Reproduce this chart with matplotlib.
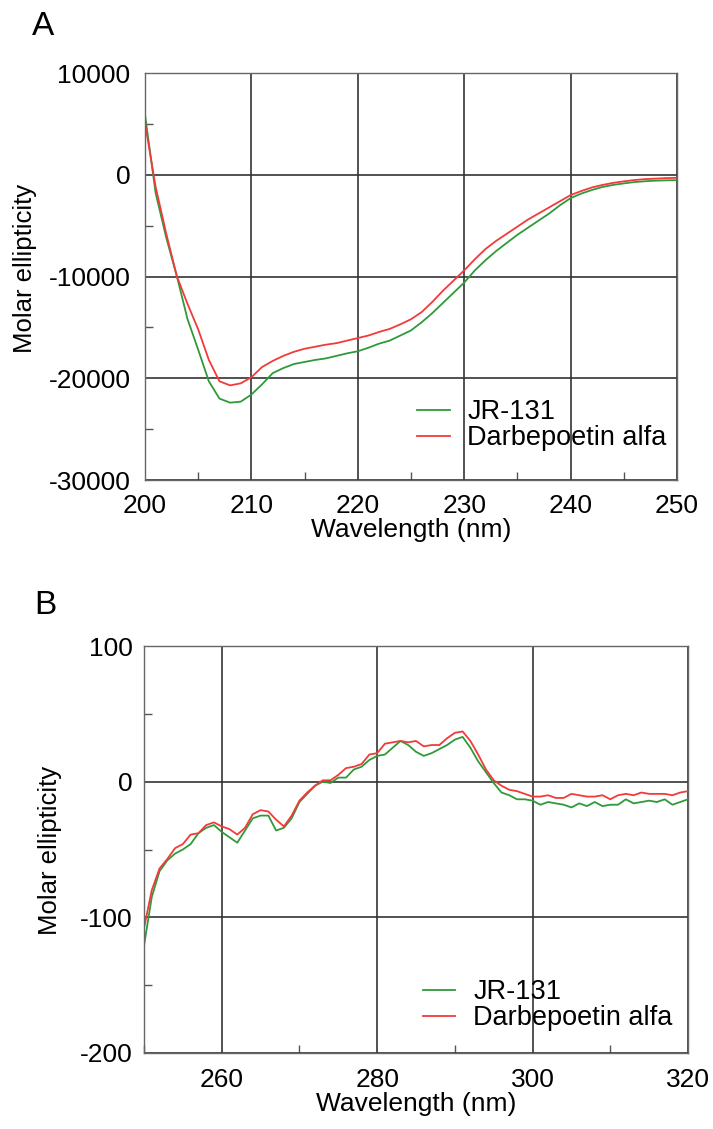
import numpy as np
import matplotlib
matplotlib.use("Agg")
import matplotlib.pyplot as plt
from matplotlib.ticker import MultipleLocator

plt.rcParams['font.family'] = ['Liberation Sans', 'DejaVu Sans']
plt.rcParams['axes.unicode_minus'] = False

# --- Panel A: far-UV CD, 200-250 nm ---
wl_a = np.arange(200, 251)
jr131_a = [5900, -1800, -6200, -10000, -14200, -17200, -20300, -22000, -22400, -22300,
           -21600, -20600, -19500, -19000, -18600, -18400, -18200, -18050, -17800, -17550,
           -17350, -17000, -16600, -16300, -15800, -15300, -14500, -13600, -12600, -11600,
           -10600, -9400, -8400, -7500, -6700, -5900, -5200, -4500, -3800, -3000,
           -2300, -1850, -1500, -1200, -1000, -850, -720, -640, -580, -550, -530]
darb_a = [5100, -1200, -5800, -10000, -12700, -15200, -18200, -20300, -20700, -20500,
          -19900, -18900, -18300, -17800, -17400, -17100, -16900, -16700, -16550, -16300,
          -16050, -15800, -15450, -15150, -14700, -14200, -13500, -12500, -11400, -10400,
          -9400, -8300, -7300, -6500, -5800, -5100, -4400, -3800, -3200, -2600,
          -2000, -1600, -1250, -1000, -800, -650, -520, -430, -380, -330, -300]

# --- Panel B: near-UV CD, 250-320 nm ---
wl_b = np.arange(250, 321)
jr131_b = [-121, -85, -66, -58, -53, -50, -46, -38, -34, -32,
           -37, -41, -45, -36, -27, -25, -25, -36, -34, -27,
           -15, -9, -3, 0, -1, 3, 3, 9, 11, 16,
           19, 20, 25, 30, 27, 22, 19, 21, 24, 27,
           31, 33, 25, 15, 7, -1, -8, -10, -13, -13,
           -14, -17, -15, -16, -17, -19, -16, -18, -15, -18,
           -17, -17, -13, -16, -15, -14, -15, -13, -17, -15, -13]
darb_b = [-108, -80, -64, -57, -49, -46, -39, -38, -32, -30,
          -33, -35, -39, -34, -24, -21, -22, -28, -33, -25,
          -14, -8, -3, 1, 1, 5, 10, 11, 13, 20,
          21, 28, 29, 30, 29, 30, 26, 27, 27, 32,
          36, 37, 30, 20, 9, 1, -3, -6, -7, -9,
          -11, -11, -10, -12, -12, -9, -10, -11, -11, -10,
          -13, -10, -9, -10, -8, -9, -9, -9, -10, -8, -7]

green = '#2f9a3a'
red = '#f23a3a'
fs = 19

fig = plt.figure(figsize=(7.13, 11.29), dpi=100)
ax1 = fig.add_axes([145/713, 1 - 480/1129, 532/713, 407/1129])
ax2 = fig.add_axes([144/713, 1 - 1053/1129, 544/713, 407/1129])


def style(ax, xlim, ylim, xmaj, xmin, ymaj, ymin, xpad, ypad):
    ax.set_xlim(*xlim)
    ax.set_ylim(*ylim)
    ax.xaxis.set_major_locator(MultipleLocator(xmaj))
    ax.xaxis.set_minor_locator(MultipleLocator(xmin))
    ax.yaxis.set_major_locator(MultipleLocator(ymaj))
    ax.yaxis.set_minor_locator(MultipleLocator(ymin))
    ax.grid(True, which='major', color='#333333', lw=1.2)
    ax.set_axisbelow(True)
    ax.tick_params(which='major', length=0, labelsize=fs)
    ax.tick_params(axis='x', which='major', pad=xpad)
    ax.tick_params(axis='y', which='major', pad=ypad)
    ax.tick_params(which='minor', direction='in', length=6, width=1, color='#555555')
    for s in ax.spines.values():
        s.set_color('#666666')
        s.set_linewidth(1.0)
    ax.set_xlabel('Wavelength (nm)', fontsize=fs, labelpad=0)
    ax.set_ylabel('Molar ellipticity', fontsize=18.5)


ax1.plot(wl_a, jr131_a, color=green, lw=1.3, label='JR-131')
ax1.plot(wl_a, darb_a, color=red, lw=1.3, label='Darbepoetin alfa')
style(ax1, (200, 250), (-30000, 10000), 10, 5, 10000, 5000, 10, 10.5)
ax1.yaxis.set_label_coords(37/713, 1 - 268/1129, transform=fig.transFigure)

ax2.plot(wl_b, jr131_b, color=green, lw=1.3, label='JR-131')
ax2.plot(wl_b, darb_b, color=red, lw=1.3, label='Darbepoetin alfa')
style(ax2, (250, 320), (-200, 100), 20, 10, 100, 50, 11, 8)
ax2.set_xticks([260, 280, 300, 320])
ax2.yaxis.set_label_coords(62/713, 1 - 850/1129, transform=fig.transFigure)

for ax, x0, y0 in [(ax1, 417, 399), (ax2, 423, 979)]:
    ax.legend(loc='upper left', bbox_to_anchor=(x0/713, 1 - y0/1129),
              bbox_transform=fig.transFigure, frameon=False, fontsize=19.5,
              borderpad=0, borderaxespad=0, labelspacing=0.0,
              handlelength=1.2, handletextpad=0.65)

fig.text(32/713, 1 - 35/1129, 'A', fontsize=24, ha='left', va='baseline')
fig.text(34/713, 1 - 614/1129, 'B', fontsize=24, ha='left', va='baseline')

fig.savefig('out.png', dpi=100)
